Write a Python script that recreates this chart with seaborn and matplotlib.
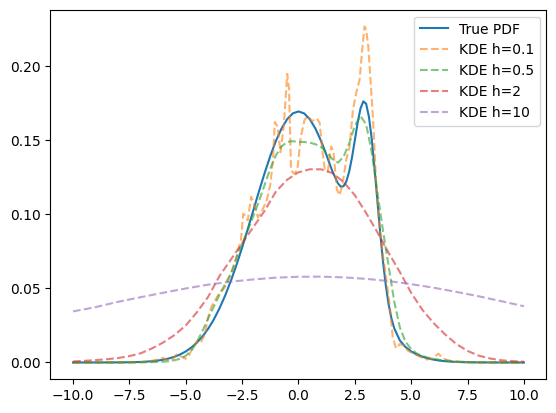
import matplotlib
matplotlib.use('Agg')
import matplotlib.pyplot as plt
import seaborn as sns

# values
x_true = [-10, -9, -8.5, -8, -7.75, -7.5, -7.25, -7, -6.75, -6.5, -6.25, -6, -5.75, -5.5,
          -5.25, -5, -4.75, -4.5, -4.25, -4, -3.75, -3.5, -3.25, -3, -2.75, -2.5, -2.25,
          -2, -1.75, -1.5, -1.25, -1, -0.75, -0.5, -0.25, 0, 0.25, 0.5, 0.75, 1, 1.25,
          1.5, 1.75, 1.875, 2, 2.125, 2.25, 2.375, 2.5, 2.625, 2.75, 2.875, 3, 3.125,
          3.25, 3.375, 3.5, 3.625, 3.75, 3.875, 4, 4.125, 4.25, 4.5, 4.75, 5, 5.25, 5.5,
          5.75, 6, 6.25, 6.5, 6.75, 7, 7.25, 7.5, 7.75, 8, 8.5, 9, 10]
y_true = [0.0, 0.00004, 0.00012, 0.00006, 0.00009, 0.00015, 0.00024, 0.00037, 0.00057,
          0.00086, 0.00128, 0.00188, 0.00271, 0.00387, 0.00541, 0.00745, 0.0101, 0.0135,
          0.0177, 0.0229, 0.0292, 0.0367, 0.0453, 0.0551, 0.0659, 0.0776, 0.0901, 0.1029,
          0.1157, 0.1280, 0.1395, 0.1497, 0.1581, 0.1644, 0.1683, 0.1696, 0.1683, 0.1644,
          0.1581, 0.1497, 0.1398, 0.1293, 0.1210, 0.1188, 0.1191, 0.1224, 0.1290, 0.1386,
          0.1502, 0.1620, 0.1715, 0.1764, 0.1748, 0.1660, 0.1509, 0.1311, 0.1093, 0.0876,
          0.0681, 0.0519, 0.0391, 0.0297, 0.0230, 0.0148, 0.0104, 0.0075, 0.0054, 0.0039,
          0.0027, 0.0019, 0.00128, 0.00086, 0.00057, 0.00037, 0.00024, 0.00015, 0.00009,
          0.00006, 0.00002, 0.00001, 0.0]
y_true[1] = 0.00001
y_true[2] = 0.00003

x_h01 = [-10, -8, -7.0, -6.6, -6.3, -6.0, -5.8, -5.6, -5.4, -5.2, -5.0, -4.85, -4.7, -4.5,
         -4.35, -4.15, -4.0, -3.85, -3.7, -3.5, -3.3, -3.15, -3.0, -2.85, -2.7, -2.55,
         -2.45, -2.35, -2.25, -2.1, -1.95, -1.8, -1.6, -1.4, -1.25, -1.13, -1.05, -0.92,
         -0.8, -0.65, -0.5, -0.42, -0.33, -0.2, -0.05, 0.1, 0.27, 0.42, 0.6, 0.8, 0.94,
         1.05, 1.17, 1.3, 1.45, 1.55, 1.7, 1.82, 1.95, 2.12, 2.27, 2.41, 2.56, 2.71, 2.85,
         2.93, 3.0, 3.1, 3.2, 3.3, 3.45, 3.6, 3.75, 3.9, 4.05, 4.18, 4.33, 4.5, 4.65, 4.85,
         5.1, 5.37, 5.7, 6.0, 6.2, 6.4, 6.6, 7.0, 8.0, 10.0]
y_h01 = [0.0, 0.0, 0.0002, 0.0008, 0.0018, 0.0030, 0.0016, 0.0020, 0.0055, 0.0040, 0.0025,
         0.0050, 0.0100, 0.0145, 0.0130, 0.0190, 0.0310, 0.0380, 0.0420, 0.0470, 0.0500,
         0.0540, 0.0600, 0.0650, 0.0740, 0.0830, 0.1005, 0.0990, 0.0960, 0.1120, 0.1060,
         0.0980, 0.1030, 0.1100, 0.1200, 0.1370, 0.1625, 0.1590, 0.1420, 0.1600, 0.1950,
         0.1850, 0.1300, 0.1275, 0.1300, 0.1520, 0.1640, 0.1665, 0.1630, 0.1650, 0.1620,
         0.1450, 0.1300, 0.1290, 0.1460, 0.1430, 0.1170, 0.1130, 0.1200, 0.1370, 0.1460,
         0.1700, 0.1820, 0.1910, 0.2150, 0.2270, 0.2250, 0.2130, 0.1900, 0.1660, 0.1200,
         0.0900, 0.0720, 0.0560, 0.0380, 0.0170, 0.0095, 0.0125, 0.0115, 0.0080, 0.0060,
         0.0040, 0.0020, 0.0030, 0.0060, 0.0030, 0.0015, 0.0004, 0.0, 0.0]

x_h05 = [-10, -9, -8, -7, -6.5, -6, -5.75, -5.5, -5.25, -5, -4.75, -4.5, -4.25, -4, -3.75,
         -3.5, -3.25, -3, -2.75, -2.5, -2.25, -2, -1.75, -1.5, -1.25, -1, -0.75, -0.5,
         -0.25, 0, 0.25, 0.5, 0.75, 1, 1.25, 1.5, 1.75, 2, 2.25, 2.5, 2.75, 3, 3.25, 3.5,
         3.75, 4, 4.25, 4.5, 4.75, 5, 5.25, 5.5, 5.75, 6, 6.25, 6.5, 6.75, 7, 7.5, 8, 9, 10]
y_h05 = [0.0, 0.0, 0.00005, 0.0001, 0.0002, 0.0005, 0.0009, 0.0015, 0.0025, 0.0045, 0.0080,
         0.0140, 0.0215, 0.0300, 0.0380, 0.0460, 0.0530, 0.0600, 0.0710, 0.0800, 0.0890,
         0.0990, 0.1090, 0.1200, 0.1310, 0.1400, 0.1460, 0.1490, 0.1495, 0.1490, 0.1490,
         0.1485, 0.1475, 0.1455, 0.1420, 0.1375, 0.1350, 0.1390, 0.1480, 0.1600, 0.1665,
         0.1610, 0.1420, 0.1150, 0.0890, 0.0650, 0.0410, 0.0235, 0.0140, 0.0090, 0.0060,
         0.0043, 0.0032, 0.0024, 0.0018, 0.0014, 0.0010, 0.0007, 0.0003, 0.0001, 0.0, 0.0]

x_h2 = [-10, -9.5, -9, -8.5, -8, -7.5, -7, -6.5, -6, -5.5, -5, -4.5, -4, -3.5, -3, -2.5,
        -2, -1.5, -1, -0.5, 0, 0.5, 1, 1.5, 2, 2.5, 3, 3.5, 4, 4.5, 5, 5.5, 6, 6.5, 7,
        7.5, 8, 8.5, 9, 9.5, 10]
y_h2 = [0.0007, 0.0011, 0.0016, 0.0022, 0.0030, 0.0043, 0.0062, 0.0095, 0.0135, 0.0185,
        0.0250, 0.0340, 0.0445, 0.0585, 0.0695, 0.0805, 0.0915, 0.1025, 0.1155, 0.1235,
        0.1285, 0.1305, 0.1305, 0.1280, 0.1220, 0.1130, 0.1010, 0.0880, 0.0740, 0.0610,
        0.0470, 0.0355, 0.0265, 0.0190, 0.0125, 0.0078, 0.0046, 0.0027, 0.0015, 0.0009,
        0.0005]

x_h10 = [-10, -9, -8, -7, -6, -5, -4, -3, -2, -1, 0, 1, 2, 3, 4, 5, 6, 7, 8, 9, 10]
y_h10 = [0.0345, 0.0374, 0.0410, 0.0441, 0.0471, 0.0500, 0.0526, 0.0546, 0.0561, 0.0573,
         0.0579, 0.0580, 0.0575, 0.0565, 0.0550, 0.0529, 0.0505, 0.0477, 0.0447, 0.0414,
         0.0380]

fig, ax = plt.subplots(figsize=(6.4, 4.8), dpi=100)

sns.lineplot(x=x_true, y=y_true, ax=ax, label='True PDF', color='C0')
sns.lineplot(x=x_h01, y=y_h01, ax=ax, label='KDE h=0.1', color='C1', linestyle='--', alpha=0.6)
sns.lineplot(x=x_h05, y=y_h05, ax=ax, label='KDE h=0.5', color='C2', linestyle='--', alpha=0.6)
sns.lineplot(x=x_h2, y=y_h2, ax=ax, label='KDE h=2', color='C3', linestyle='--', alpha=0.6)
sns.lineplot(x=x_h10, y=y_h10, ax=ax, label='KDE h=10', color='C4', linestyle='--', alpha=0.6)

ax.legend(loc='upper right')
plt.savefig('out.png', bbox_inches='tight')
